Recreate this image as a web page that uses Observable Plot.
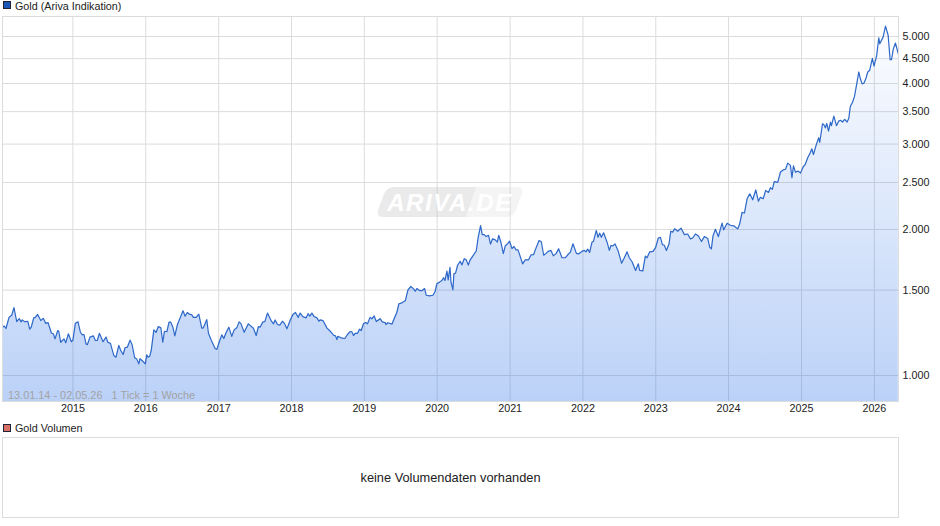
<!DOCTYPE html>
<html lang="de">
<head>
<meta charset="utf-8">
<title>Gold (Ariva Indikation)</title>
<script src="https://cdn.jsdelivr.net/npm/d3@7"></script>
<script src="https://cdn.jsdelivr.net/npm/@observablehq/plot@0.6"></script>
<style>
  html, body { margin: 0; padding: 0; background: #fff; }
  body { width: 940px; font-family: "Liberation Sans", Arial, sans-serif; font-size: 10.75px; color: #222; }
  #wrap { position: relative; width: 940px; }
  svg { display: block; }
  .legend { height: 16px; position: relative; }
  .legend i { position: absolute; left: 3px; top: 1px; width: 6px; height: 6px; border: 1px solid #223; }
  .legend span { position: absolute; left: 15px; top: 0; line-height: 13px; }
  .second i { top: 3px; }
  .second span { top: 1px; }
  #logo { position: absolute; left: 381px; top: 187px; width: 138px; height: 30px; transform: skewX(-20deg); pointer-events: none; }
  #logo b { position: absolute; top: 0; height: 30px; display: block; }
  #logo .d { left: 0; width: 90px; background: rgba(190,190,190,.33); border-radius: 7px 0 0 7px; }
  #logo .l { left: 90px; width: 48px; background: rgba(215,215,215,.27); border-radius: 0 7px 7px 0; }
  #logoText { position: absolute; left: 381px; top: 187px; width: 138px; height: 30px; text-align: center;
    font: italic bold 24px/31px "Liberation Sans", Arial, sans-serif; color: #fff; letter-spacing: 1.6px; pointer-events: none; }
</style>
</head>
<body>
<div id="wrap">
  <div class="legend"><i style="background:#1a56b8"></i><span>Gold (Ariva Indikation)</span></div>
  <div id="main"></div>
  <div class="legend second"><i style="background:#d9706a"></i><span>Gold Volumen</span></div>
  <div id="volume"></div>
  <div id="logo"><b class="d"></b><b class="l"></b></div>
  <div id="logoText">ARIVA.DE</div>
</div>
<script>
const startDate = Date.UTC(2014, 0, 13);
const endDate = Date.UTC(2026, 4, 2);
const yearTicks = [2015, 2016, 2017, 2018, 2019, 2020, 2021, 2022, 2023, 2024, 2025, 2026];
const priceTicks = [1000, 1500, 2000, 2500, 3000, 3500, 4000, 4500, 5000];
const rangeNote = "13.01.14 - 02.05.26   1 Tick = 1 Woche";
const emptyNote = "keine Volumendaten vorhanden";

// week number since the first date
const weeks = [
0,1.3,2.5,4.7,6.6,8.2,10.2,12,13.3,14.2,16.1,18.1,19.5,20.6,22.4,23.5,25.2,27.4,29.2,31,32.6,35,36.4,37.6,39.6,40.3,41.7,44.1,45.3,47.2,49.3,50.5,
52.2,54.1,55.8,57.2,58.4,59.8,60.8,62.7,65.1,66.5,67.9,69.4,72,74.2,75.4,77.3,79.7,81.3,83.3,84.7,86.4,87.8,89.4,91.4,92.8,94.7,96.2,97.6,98.5,100.5,102.3,
103.3,104.3,105.5,106.6,108.4,110,111.6,113.4,114.8,116,117.7,119.3,120.5,122,123.4,125.3,127.4,129.3,130.8,132.4,133.9,135.6,136.7,138.7,140.6,142.7,143.9,146.3,147.5,149.6,152.3,153.5,
155.4,157.1,158.5,160.2,162.1,164.2,165.9,167.8,169.5,170.7,173.1,176.1,179.7,181.7,183.3,184.5,186.5,187.9,189.8,192.6,194.1,195.3,196.9,198.6,200.5,201.9,203.7,206,208,209.8,211.8,
213.2,215.1,217.5,218.9,220.1,221.6,223.2,225.2,226.6,227.5,229.5,232.3,234.7,237.1,238.5,239.5,240.2,242.4,245.2,247.1,249,250.2,251.4,252.6,254.3,255.7,256.9,258.5,260,261.4,
263.3,264.6,266.2,267.7,270.5,272,274.1,274.6,276,278.9,280.8,282.5,283.9,285.6,287.2,288.6,290.4,292.5,294.4,295.6,296.8,298.7,300.6,302.3,303.5,305.8,308.3,309.9,311.1,313,314.7,315.9,316.9,318.3,319.2,320.5,321.2,322.6,323.3,324.5,325.9,327.8,329.1,330.7,332.1,333.6,335,339.3,340.7,342.4,343.6,345,346.4,348.1,349.5,351,352.9,354.4,355.4,357,358.7,360.1,361.7,363.2,364.9,366.3,367.8,369.2,370.8,372.5,374.4,376.8,378.5,380.4,381.8,384.3,385.9,387.6,389.3,390.9,392.8,394.5,396.6,398.3,400.7,403.1,405.4,406.7,408.6,411,412.6,415,416.7,417.9,419.1,420.5,422.2,423.3,425.3,426.5,427.7,428.9,430.5,433,434.6,435.8,437.2,438.7,440.8,443.4,445.4,447.3,448.9,450.9,453.4,455.4,456.3,458.6,460.4,461.6,463.6,465.9,467.8,469.7,471.2,472.6,474,475.5,477.4,478.6,480,481.4,483.6,486,488.4,490.7,492.7,494.3,496.3,498.4,500.6,502.7,505.1,506.5,507.7,508.9,510.6,512.7,514.2,515.4,516.5,519,521.3,523.7,525.1,526.6,528,529.7,531.4,533.3,535.2,537.3,539.5,541.4,542.8,544.8,546.6,548.6,550,551.4,552.7,555.2,557.2,559.1,560.8,562.4,564.3,565.4,566.5,567.9,570,571.5,573.4,574.9,576.7,578.7,579.6,580.8,583,584.6,585.3,587.3,588.2,589.4,590.3,591.6,593,593.7,595.4,597.3,598.9,600.2,601.6,603.2,604.9,606.1,607.2,608.8,610.2,611.6,613.3,614.4,615.7,616.9,618.3,619.7,621.1,623,624.2,626.1,627.6,628.3,630.7,632.4,634.3,635.7,636.7,637.9,639.5,641.6
];

const prices = [
1258,1265,1250,1318,1331,1380,1292,1310,1290,1302,1290,1294,1246,1258,1315,1318,1336,1298,1312,1281,1286,1224,1219,1190,1238,1234,1171,1190,1168,1219,1174,1185,
1282,1290,1228,1213,1215,1162,1158,1200,1207,1181,1181,1222,1174,1200,1171,1165,1100,1091,1154,1126,1105,1141,1144,1183,1158,1088,1081,1057,1083,1070,1057,
1103,1091,1096,1130,1242,1227,1262,1254,1171,1234,1231,1288,1288,1258,1207,1274,1318,1360,1325,1349,1338,1334,1318,1318,1338,1252,1254,1304,1222,1181,1137,1132,
1177,1213,1192,1227,1258,1204,1242,1254,1290,1281,1228,1278,1252,1209,1262,1258,1290,1292,1345,1294,1278,1302,1274,1270,1294,1281,1248,1298,1336,1349,1318,
1345,1323,1315,1341,1326,1345,1323,1315,1294,1302,1298,1254,1234,1211,1207,1186,1205,1196,1192,1215,1232,1231,1209,1222,1222,1246,1238,1278,1286,1278,
1318,1309,1327,1292,1310,1290,1286,1274,1285,1276,1315,1351,1406,1410,1419,1428,1502,1526,1509,1492,1511,1497,1497,1511,1464,1460,1464,1492,1546,1558,1570,1591,1570,1641,1575,1672,1557,1502,1621,1626,1686,1720,1691,1741,1732,1689,1732,1806,1927,2037,1952,1952,1934,1946,1866,1914,1904,1883,1946,1880,1783,1851,1868,1892,1827,1845,1816,1816,1760,1699,1732,1732,1773,1776,1822,1899,1887,1770,1786,1803,1811,1765,1786,1826,1749,1749,1781,1796,1869,1786,1781,1803,1811,1799,1822,1794,1883,1892,1991,1927,1965,1927,1969,1883,1811,1854,1851,1868,1811,1704,1749,1799,1749,1716,1647,1700,1647,1644,1763,1749,1799,1803,1838,1921,1927,1862,1856,1811,1869,1984,1975,2008,1984,2013,1952,1958,1913,1921,1958,1940,1889,1934,1916,1839,1825,1943,2003,1934,2006,2061,1997,2061,2041,2035,2022,2006,2055,2170,2163,2315,2370,2303,2413,2287,2330,2315,2408,2385,2440,2420,2511,2502,2628,2654,2663,2741,2712,2559,2706,2627,2639,2614,2691,2724,2811,2887,2934,2855,3003,3092,3023,3304,3293,3240,3311,3192,3329,3274,3425,3274,3346,3359,3332,3373,3332,3386,3587,3660,3762,3966,4225,4090,3993,4005,4090,4225,4260,4506,4342,4570,4970,4830,4985,5254,5030,4478,4478,4700,4848,4604
];

const yBottom = 884, yTop = 5498;
const weekMs = 7 * 864e5;
const series = weeks.map((w, i) => ({ date: new Date(startDate + w * weekMs), price: prices[i] }));
const yearDates = yearTicks.map(y => new Date(Date.UTC(y, 0, 1)));
const de = v => d3.format(",")(v).replace(/,/g, ".");
const fontStyle = { fontFamily: "'Liberation Sans', Arial, sans-serif", fontSize: "10.75px", background: "#fff", color: "#222", overflow: "visible" };

const gradient = () => {
  const defs = d3.create("svg:defs");
  const g = defs.append("linearGradient").attr("id", "goldFade").attr("x1", 0).attr("x2", 0).attr("y1", 0).attr("y2", 1);
  g.append("stop").attr("offset", "0%").attr("stop-color", "#1b66e6").attr("stop-opacity", 0.01);
  g.append("stop").attr("offset", "100%").attr("stop-color", "#1b66e6").attr("stop-opacity", 0.3);
  return defs.node();
};

const main = Plot.plot({
  width: 940, height: 405,
  marginLeft: 2, marginRight: 42, marginTop: 0, marginBottom: 20,
  style: fontStyle,
  x: { type: "time", domain: [new Date(startDate), new Date(endDate)], label: null },
  y: { type: "log", domain: [yBottom, yTop], label: null },
  marks: [
    gradient,
    Plot.gridX(yearDates, { stroke: "#dcdcdc", strokeOpacity: 1 }),
    Plot.gridY(priceTicks, { stroke: "#dcdcdc", strokeOpacity: 1 }),
    Plot.areaY(series, { x: "date", y1: () => yBottom, y2: "price", fill: "url(#goldFade)" }),
    Plot.lineY(series, { x: "date", y: "price", stroke: "#2e68c8", strokeWidth: 1.2, curve: "linear" }),
    Plot.frame({ stroke: "#dcdcdc" }),
    Plot.axisX(yearDates, { anchor: "bottom", tickSize: 0, tickPadding: 3, tickFormat: d3.utcFormat("%Y"), label: null, fill: "#222" }),
    Plot.axisY(priceTicks, { anchor: "right", tickSize: 0, tickPadding: 4, tickFormat: de, label: null, fill: "#222" }),
    Plot.text([rangeNote], { frameAnchor: "bottom-left", dx: 5.5, dy: -3, fill: "#a3a3a3", fontSize: 10.9 })
  ]
});
document.getElementById("main").append(main);

const volume = Plot.plot({
  width: 940, height: 81,
  marginLeft: 2, marginRight: 42, marginTop: 0, marginBottom: 1,
  style: fontStyle,
  marks: [
    Plot.frame({ stroke: "#dcdcdc" }),
    Plot.text([emptyNote], { frameAnchor: "middle", fill: "#222", fontSize: 12.8 })
  ]
});
document.getElementById("volume").append(volume);
</script>
</body>
</html>
